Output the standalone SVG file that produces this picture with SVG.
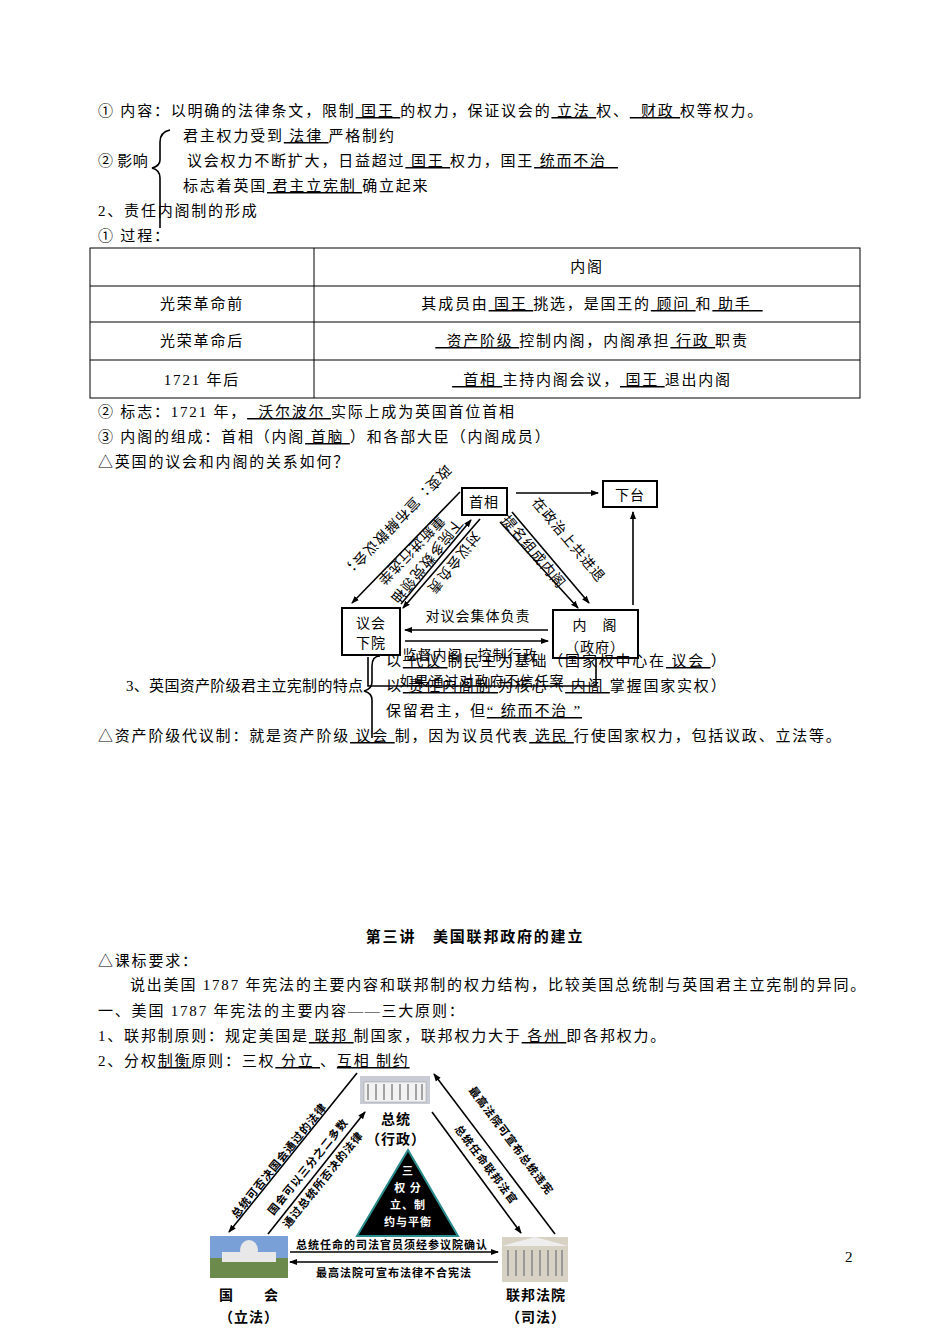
<svg xmlns="http://www.w3.org/2000/svg" width="950" height="1344" viewBox="0 0 950 1344">
<style>
text{font-family:"Liberation Serif","Noto Sans CJK SC",serif;font-size:15px;white-space:pre;letter-spacing:1.8px}
.u{text-decoration:underline}
.t{letter-spacing:0.3px}
.box{fill:#fff;stroke:#000;stroke-width:2}
.ln{stroke:#000;stroke-width:1.6;fill:none}
.d{font-family:"Noto Sans CJK SC",sans-serif;font-size:14px;letter-spacing:1px}
.s{font-family:"Noto Sans CJK SC",sans-serif;font-size:11px;font-weight:bold;letter-spacing:1px}
.w{fill:#fff}
.c{text-anchor:middle}
</style>
<defs>
<marker id="a" markerWidth="8" markerHeight="8" refX="7" refY="4" orient="auto" markerUnits="userSpaceOnUse"><path d="M0,1 L8,4 L0,7z" fill="#000"/></marker>
</defs>
<rect width="950" height="1344" fill="#fff"/>
<g id="text1">
<text x="98" y="116">① 内容：以明确的法律条文，限制<tspan class="u"> 国王 </tspan>的权力，保证议会的<tspan class="u"> 立法 </tspan>权、<tspan class="u">  财政 </tspan>权等权力。</text>
<text x="183" y="141">君主权力受到<tspan class="u"> 法律 </tspan>严格制约</text>
<text x="98" y="166" class="t">② 影响</text>
<text x="187" y="166">议会权力不断扩大，日益超过<tspan class="u"> 国王 </tspan>权力，国王<tspan class="u"> 统而不治  </tspan></text>
<text x="183" y="191">标志着英国<tspan class="u"> 君主立宪制 </tspan>确立起来</text>
<text x="98" y="216">2、责任内阁制的形成</text>
<text x="98" y="241">① 过程：</text>
<path d="M170,130 Q160,132 160,142 L160,160 Q160,166 152,168 Q160,170 160,178 L160,228" class="ln" stroke-width="1"/>
</g>
<g id="table">
<rect x="90" y="248" width="770" height="150" fill="none" stroke="#000"/>
<path d="M314,248V398 M90,286H860 M90,322H860 M90,360H860" stroke="#000"/>
<text x="587" y="272" class="c">内阁</text>
<text x="202" y="309" class="c">光荣革命前</text>
<text x="592" y="309" class="c">其成员由<tspan class="u"> 国王 </tspan>挑选，是国王的<tspan class="u"> 顾问 </tspan>和<tspan class="u"> 助手  </tspan></text>
<text x="202" y="346" class="c">光荣革命后</text>
<text x="592" y="346" class="c"><tspan class="u">  资产阶级 </tspan>控制内阁，内阁承担<tspan class="u"> 行政 </tspan>职责</text>
<text x="202" y="385" class="c">1721 年后</text>
<text x="592" y="385" class="c"><tspan class="u">  首相 </tspan>主持内阁会议，<tspan class="u"> 国王 </tspan>退出内阁</text>
</g>
<g id="text2">
<text x="98" y="417">② 标志：1721 年，<tspan class="u">  沃尔波尔 </tspan>实际上成为英国首位首相</text>
<text x="98" y="442">③ 内阁的组成：首相（内阁<tspan class="u"> 首脑 </tspan>）和各部大臣（内阁成员）</text>
<text x="98" y="467">△英国的议会和内阁的关系如何？</text>
</g>
<g id="connectors1">
<line class="ln" x1="516" y1="493" x2="598" y2="493" marker-end="url(#a)"/>
<line class="ln" x1="633" y1="605" x2="633" y2="512" marker-end="url(#a)"/>
<line class="ln" x1="460" y1="492" x2="352" y2="603" marker-end="url(#a)"/>
<line class="ln" x1="401" y1="604" x2="471" y2="520" marker-end="url(#a)"/>
<line class="ln" x1="480" y1="519" x2="403" y2="608" marker-end="url(#a)"/>
<line class="ln" x1="512" y1="512" x2="589" y2="603" marker-end="url(#a)"/>
<line class="ln" x1="500" y1="522" x2="578" y2="608" marker-end="url(#a)"/>
<line class="ln" x1="548" y1="630" x2="405" y2="630" marker-end="url(#a)"/>
<line class="ln" x1="405" y1="641" x2="548" y2="641" marker-end="url(#a)"/>
<path class="ln" d="M368,657 V686 H596 V652" marker-end="url(#a)"/>
</g>
<g id="n-shouxiang"><rect class="box" x="462" y="488" width="45" height="27"/><text class="d c" x="484" y="507">首相</text></g>
<g id="n-xiatai"><rect class="box" x="603" y="481" width="54" height="26"/><text class="d c" x="630" y="500">下台</text></g>
<g id="n-yihui"><rect class="box" x="342" y="608" width="58" height="47"/><text class="d c" x="371" y="628">议会</text><text class="d c" x="371" y="648">下院</text></g>
<g id="n-neige"><rect class="box" x="553" y="610" width="85" height="48"/><text class="d c" x="595" y="630">内　阁</text><text class="d c" x="595" y="652">（政府）</text></g>
<g id="labels1">
<text class="d c" transform="translate(393,518) rotate(134)">政变：宣布解散议会；</text>
<text class="d c" transform="translate(396,536) rotate(134) translate(0,-16)">重新进行选举</text>
<text class="d c" transform="translate(423,558) rotate(129)">下院多数党领袖</text>
<text class="d c" transform="translate(450,560) rotate(129)">对议会负责</text>
<text class="d c" transform="translate(565,543) rotate(50)">在政治上共进退</text>
<text class="d c" transform="translate(530,555) rotate(50)">提名组成内阁</text>
<text class="d c" x="478" y="621">对议会集体负责</text>
<text class="d c" x="470" y="660">监督内阁，控制行政</text>
<text class="d c" x="482" y="686">如果通过对政府不信任案</text>
</g>
<g id="text3">
<text x="386" y="666">以<tspan class="u"> 代议 </tspan>制民主为基础（国家权中心在<tspan class="u"> 议会 </tspan>）</text>
<text x="126" y="691" class="t">3、英国资产阶级君主立宪制的特点</text>
<text x="386" y="691">以<tspan class="u"> 责任内阁制 </tspan>为核心（<tspan class="u"> 内阁 </tspan>掌握国家实权）</text>
<text x="386" y="716">保留君主，但<tspan class="u">“ 统而不治 ”</tspan></text>
<text x="98" y="741">△资产阶级代议制：就是资产阶级<tspan class="u"> 议会 </tspan>制，因为议员代表<tspan class="u"> 选民 </tspan>行使国家权力，包括议政、立法等。</text>
<path d="M380,656 Q372,656 372,666 L372,682 Q372,689 364,691 Q372,693 372,700 L372,738" class="ln" stroke-width="1"/>
</g>
<g id="text4">
<text x="475" y="942" class="c" font-weight="bold">第三讲　美国联邦政府的建立</text>
<text x="98" y="966">△课标要求：</text>
<text x="130" y="990">说出美国 1787 年宪法的主要内容和联邦制的权力结构，比较美国总统制与英国君主立宪制的异同。</text>
<text x="98" y="1016">一、美国 1787 年宪法的主要内容——三大原则：</text>
<text x="98" y="1041">1、联邦制原则：规定美国是<tspan class="u"> 联邦 </tspan>制国家，联邦权力大于<tspan class="u"> 各州 </tspan>即各邦权力。</text>
<text x="98" y="1066">2、分权<tspan class="u">制衡</tspan>原则：三权<tspan class="u"> 分立 </tspan>、<tspan class="u">互相 制约</tspan></text>
</g>
<g id="n-president">
<rect x="360" y="1076" width="70" height="28" fill="#c9ccd4"/>
<rect x="364" y="1082" width="62" height="20" fill="#f2f2f2" stroke="#999" stroke-width="0.5"/>
<path d="M368,1084v16M376,1084v16M384,1084v16M392,1084v16M400,1084v16M408,1084v16M416,1084v16M422,1084v16" stroke="#888" stroke-width="1.5"/>
<text class="d c" x="396" y="1124" font-weight="bold">总统</text>
<text class="d c" x="396" y="1144" font-weight="bold">（行政）</text>
</g>
<g id="n-triangle">
<path d="M408,1150 L458,1236 L357,1236Z" fill="#000" stroke="#2a8c8c" stroke-width="2"/>
<text class="s c w" x="408" y="1175">三</text>
<text class="s c w" x="408" y="1192">权 分</text>
<text class="s c w" x="408" y="1209">立、制</text>
<text class="s c w" x="408" y="1226">约与平衡</text>
</g>
<g id="n-congress">
<rect x="210" y="1236" width="78" height="42" fill="#7aa0d8"/>
<rect x="210" y="1258" width="78" height="20" fill="#6b8a4c"/>
<ellipse cx="249" cy="1250" rx="9" ry="10" fill="#e8e8e8"/>
<rect x="222" y="1252" width="54" height="10" fill="#e8e8e8"/>
<text class="d c" x="249" y="1300" font-weight="bold">国　　会</text>
<text class="d c" x="249" y="1322" font-weight="bold">（立法）</text>
</g>
<g id="n-court">
<rect x="502" y="1237" width="66" height="45" fill="#d8d2c4"/>
<path d="M502,1246 L535,1237 L568,1246Z" fill="#eee"/>
<path d="M508,1250v26M516,1250v26M524,1250v26M532,1250v26M540,1250v26M548,1250v26M556,1250v26M562,1250v26" stroke="#999" stroke-width="2"/>
<text class="d c" x="536" y="1300" font-weight="bold">联邦法院</text>
<text class="d c" x="536" y="1322" font-weight="bold">（司法）</text>
</g>
<g id="connectors2">
<line class="ln" x1="357" y1="1073" x2="229" y2="1232" marker-end="url(#a)"/>
<line class="ln" x1="268" y1="1234" x2="365" y2="1112" marker-end="url(#a)"/>
<line class="ln" x1="555" y1="1234" x2="434" y2="1074" marker-end="url(#a)"/>
<line class="ln" x1="432" y1="1112" x2="521" y2="1233" marker-end="url(#a)"/>
<line class="ln" x1="290" y1="1252" x2="498" y2="1252" marker-end="url(#a)"/>
<line class="ln" x1="498" y1="1262" x2="290" y2="1262" marker-end="url(#a)"/>
</g>
<g id="labels2">
<text class="s c" transform="translate(282,1163) rotate(-51)">总统可否决国会通过的法律</text>
<text class="s c" transform="translate(311,1169) rotate(-51)">国会可以三分之二多数</text>
<text class="s c" transform="translate(326,1182) rotate(-51)">通过总统所否决的法律</text>
<text class="s c" transform="translate(508,1143) rotate(53)">最高法院可宣布总统违宪</text>
<text class="s c" transform="translate(483,1167) rotate(53)">总统任命联邦法官</text>
<text class="s c" x="392" y="1249">总统任命的司法官员须经参议院确认</text>
<text class="s c" x="394" y="1277">最高法院可宣布法律不合宪法</text>
</g>
<text x="845" y="1262" font-size="14">2</text>
</svg>
